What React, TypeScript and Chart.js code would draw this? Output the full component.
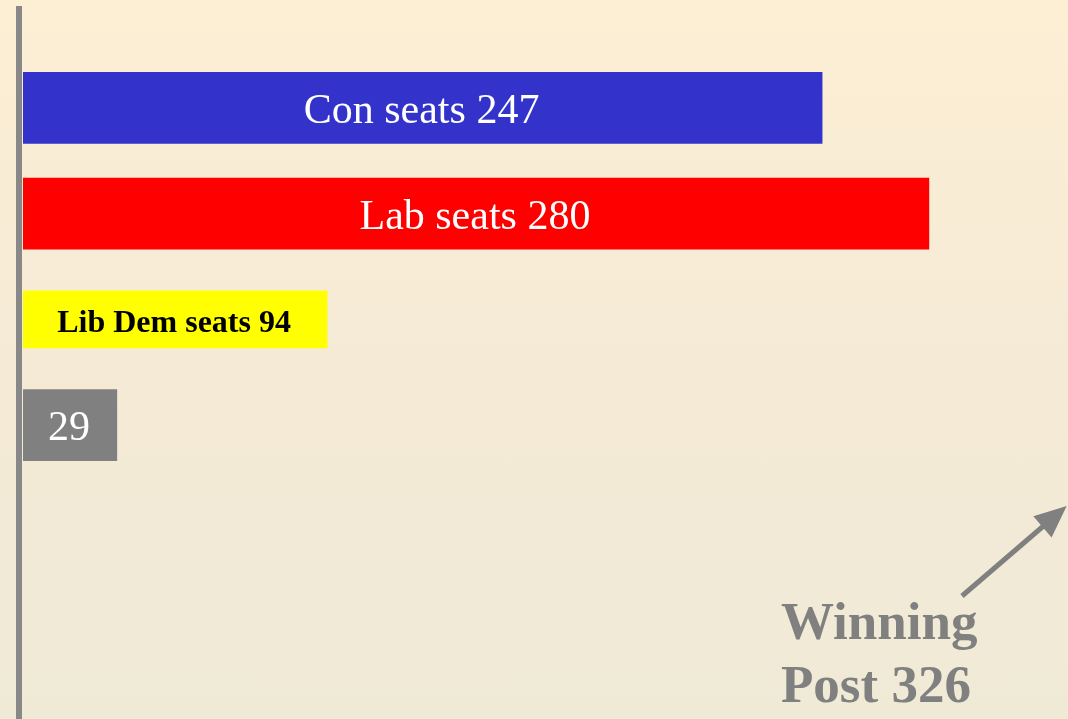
import React, { useEffect, useRef } from "react";
import { Chart, registerables } from "chart.js";

Chart.register(...registerables);

const parties = ["Con", "Lab", "Lib Dem", "Other"];
const seats = [247, 280, 94, 29];
const barLabels = ["Con seats 247", "Lab seats 280", "Lib Dem seats 94", "29"];
const barColors = ["#3333CC", "#FF0000", "#FFFF00", "#808080"];
const labelColors = ["#FFFFFF", "#FFFFFF", "#000000", "#FFFFFF"];
const labelFonts = ["42px 'Liberation Serif'", "42px 'Liberation Serif'", "bold 32px 'Liberation Serif'", "42px 'Liberation Serif'"];
const barThicknesses = [71, 71, 57, 71];
const winningPost = 326;
const winningText = ["Winning", "Post 326"];

const decorPlugin = {
  id: "decor",
  beforeDatasetsDraw(chart: any) {
    const { ctx } = chart;
    const x0 = chart.scales.x.getPixelForValue(0);
    ctx.save();
    ctx.fillStyle = "#888888";
    ctx.fillRect(x0 - 7, 6, 6, chart.height - 6);
    ctx.restore();
  },
  afterDatasetsDraw(chart: any) {
    const { ctx } = chart;
    ctx.save();
    ctx.textAlign = "center";
    ctx.textBaseline = "middle";
    chart.data.datasets.forEach((ds: any, di: number) => {
      const meta = chart.getDatasetMeta(di);
      meta.data.forEach((el: any, i: number) => {
        if (ds.data[i] == null) return;
        const left = el.base;
        const right = el.x;
        ctx.font = labelFonts[i];
        ctx.fillStyle = labelColors[i];
        ctx.fillText(barLabels[i], (left + right) / 2 - 1, el.y + 4);
      });
    });
    // Winning post annotation
    const xs = chart.scales.x;
    const tipX = xs.getPixelForValue(winningPost) - 11;
    const tipY = 506;
    const startX = 962;
    const startY = 596;
    const ang = Math.atan2(tipY - startY, tipX - startX);
    ctx.strokeStyle = "#808080";
    ctx.fillStyle = "#808080";
    ctx.lineWidth = 5;
    ctx.beginPath();
    ctx.moveTo(startX, startY);
    ctx.lineTo(tipX - 18 * Math.cos(ang), tipY - 18 * Math.sin(ang));
    ctx.stroke();
    const hl = 32;
    const hw = 14;
    const bx = tipX - hl * Math.cos(ang);
    const by = tipY - hl * Math.sin(ang);
    ctx.beginPath();
    ctx.moveTo(tipX, tipY);
    ctx.lineTo(bx + hw * Math.sin(ang), by - hw * Math.cos(ang));
    ctx.lineTo(bx - hw * Math.sin(ang), by + hw * Math.cos(ang));
    ctx.closePath();
    ctx.fill();
    ctx.font = "bold 53px 'Liberation Serif'";
    ctx.textAlign = "left";
    ctx.textBaseline = "alphabetic";
    ctx.fillText(winningText[0], 781, 639);
    ctx.fillText(winningText[1], 781, 702);
    ctx.restore();
  },
};

export default function App() {
  const ref = useRef<HTMLCanvasElement>(null);
  useEffect(() => {
    document.body.style.margin = "0";
    const datasets = parties.map((p, i) => ({
      label: p,
      data: seats.map((v, j) => (j === i ? v : null)),
      backgroundColor: barColors[i],
      barThickness: barThicknesses[i],
      grouped: false,
      borderWidth: 0,
    }));
    const chart = new Chart(ref.current!, {
      type: "bar",
      data: { labels: parties, datasets },
      options: {
        indexAxis: "y",
        animation: false,
        responsive: false,
        maintainAspectRatio: false,
        layout: { padding: { left: 23, right: 0, top: 55, bottom: 241 } },
        plugins: { legend: { display: false }, tooltip: { enabled: false } },
        scales: {
          x: { display: false, min: 0, max: 323 },
          y: { display: false },
        },
      },
      plugins: [decorPlugin],
    });
    return () => chart.destroy();
  }, []);
  return (
    <div
      style={{
        width: 1068,
        height: 719,
        background: "linear-gradient(to bottom, #FDEFD4 0%, #F5EAD6 50%, #EFEAD6 100%)",
      }}
    >
      <canvas ref={ref} width={1068} height={719} style={{ display: "block" }} />
    </div>
  );
}
